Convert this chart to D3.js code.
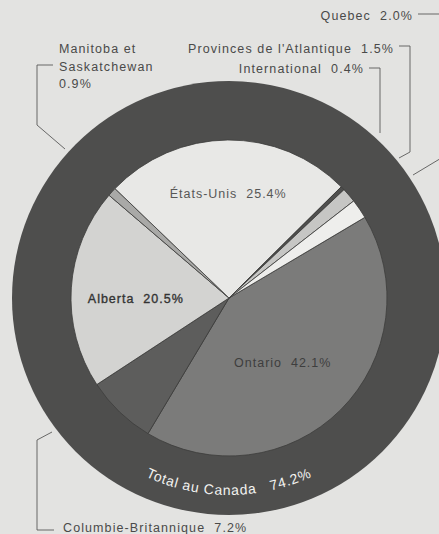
<!DOCTYPE html>
<html>
<head>
<meta charset="utf-8">
<script src="https://cdn.jsdelivr.net/npm/d3@7"></script>
<style>
  html, body { margin: 0; padding: 0; background: #e3e3e1; }
  svg { display: block; }
  text { font-family: "Liberation Sans", Arial, Helvetica, sans-serif; }
</style>
</head>
<body>
<svg id="chart" width="439" height="534"></svg>
<script>
// Répartition des ventes par destination (%)
const categories = [
  "Ontario",
  "Columbie-Britannique",
  "Alberta",
  "Manitoba et Saskatchewan",
  "États-Unis",
  "International",
  "Provinces de l'Atlantique",
  "Quebec"
];
const shares = [42.1, 7.2, 20.5, 0.9, 25.4, 0.4, 1.5, 2.0];
const canadaLabel = "Total au Canada";
const canadaTotal = 74.2;

const fills = ["#7b7b7a", "#5d5d5c", "#d3d3d1", "#a9a9a7", "#e8e8e6", "#4f4f4e", "#c6c6c4", "#eeeeec"];

const W = 439, H = 534;
const cx = 229, cy = 298;
const rPie = 158, rRing = 217;
const startDeg = 59.3;
const rad = d => d * Math.PI / 180;
const fmt = v => v.toFixed(1) + "%";

const svg = d3.select("#chart");
const g = svg.append("g").attr("transform", `translate(${cx},${cy})`);

// dark outer band
g.append("circle").attr("r", rRing).attr("fill", "#4e4e4d");

const data = categories.map((c, i) => ({ name: c, value: shares[i], fill: fills[i] }));
const pie = d3.pie().sort(null).value(d => d.value)
  .startAngle(rad(startDeg)).endAngle(rad(startDeg) + 2 * Math.PI);
const arcs = pie(data);
const arc = d3.arc().innerRadius(0).outerRadius(rPie);

g.selectAll("path.slice").data(arcs).join("path")
  .attr("class", "slice")
  .attr("d", arc)
  .attr("fill", d => d.data.fill)
  .attr("stroke", "#3c3c3b")
  .attr("stroke-width", 0.8)
  .attr("stroke-linejoin", "round");

// labels inside the large slices: [radius factor, angle nudge in degrees, colour]
const inner = {
  "États-Unis": [0.66, 0, "#575756"],
  "Alberta": [0.59, -4, "#333333"],
  "Ontario": [0.53, 5, "#3e3e3e"]
};
arcs.filter(d => inner[d.data.name]).forEach(d => {
  const [f, nudge, col] = inner[d.data.name];
  const a = (d.startAngle + d.endAngle) / 2 + rad(nudge);
  const r = rPie * f;
  g.append("text")
    .attr("x", r * Math.sin(a))
    .attr("y", -r * Math.cos(a))
    .attr("dy", "0.36em")
    .attr("text-anchor", "middle")
    .attr("font-size", 12.5)
    .attr("letter-spacing", 1)
    .attr("fill", col)
    .attr("stroke", d.data.name === "Alberta" ? col : "none")
    .attr("stroke-width", 0.35)
    .attr("xml:space", "preserve")
    .text(d.data.name + "  " + fmt(d.data.value));
});

// curved caption in the band
const rText = 197;
const a0 = rad(232), a1 = rad(128);
const p0 = [rText * Math.sin(a0), -rText * Math.cos(a0)];
const p1 = [rText * Math.sin(a1), -rText * Math.cos(a1)];
g.append("path").attr("id", "bandPath")
  .attr("d", `M${p0[0]},${p0[1]} A${rText},${rText} 0 0 0 ${p1[0]},${p1[1]}`)
  .attr("fill", "none");
g.append("text")
  .attr("font-size", 14)
  .attr("letter-spacing", 0.8)
  .attr("fill", "#f2f2f0")
  .attr("xml:space", "preserve")
  .append("textPath")
  .attr("href", "#bandPath")
  .attr("startOffset", "50%")
  .attr("text-anchor", "middle")
  .text(canadaLabel + "   " + fmt(canadaTotal));

// outside labels with leader lines
const byName = Object.fromEntries(data.map(d => [d.name, d]));
const outer = [
  { name: "Quebec", lines: ["Quebec  " + fmt(byName["Quebec"].value)], x: 413, y: 20, anchor: "end",
    leader: [[418, 14], [448, 14], [448, 154], [413, 175]] },
  { name: "Provinces de l'Atlantique", lines: ["Provinces de l'Atlantique  " + fmt(byName["Provinces de l'Atlantique"].value)], x: 394, y: 53, anchor: "end",
    leader: [[399, 46], [410, 46], [410, 152], [399, 158]] },
  { name: "International", lines: ["International  " + fmt(byName["International"].value)], x: 364, y: 73, anchor: "end",
    leader: [[369, 68], [380, 68], [380, 133]] },
  { name: "Manitoba et Saskatchewan", lines: ["Manitoba et", "Saskatchewan", fmt(byName["Manitoba et Saskatchewan"].value)], x: 59, y: 53, anchor: "start",
    leader: [[53, 65], [37, 65], [37, 125], [65, 149]] },
  { name: "Columbie-Britannique", lines: ["Columbie-Britannique  " + fmt(byName["Columbie-Britannique"].value)], x: 63, y: 532, anchor: "start",
    leader: [[54, 530], [37, 530], [37, 440], [52, 432]] }
];

const line = d3.line();
outer.forEach(o => {
  svg.append("path")
    .attr("d", line(o.leader))
    .attr("fill", "none")
    .attr("stroke", "#5a5a59")
    .attr("stroke-width", 0.9);
  const t = svg.append("text")
    .attr("x", o.x).attr("y", o.y)
    .attr("text-anchor", o.anchor)
    .attr("font-size", 12.5)
    .attr("letter-spacing", 1.1)
    .attr("fill", "#4a4a49")
    .attr("xml:space", "preserve");
  o.lines.forEach((s, i) => {
    t.append("tspan").attr("x", o.x).attr("dy", i === 0 ? 0 : 17.5).text(s);
  });
});
</script>
</body>
</html>
